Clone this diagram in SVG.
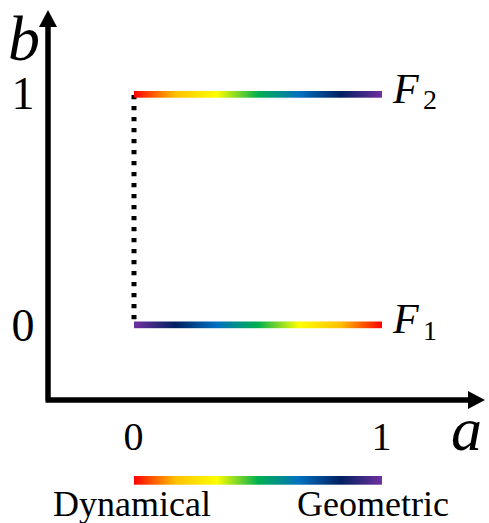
<svg xmlns="http://www.w3.org/2000/svg" width="489" height="523" viewBox="0 0 489 523">
<style>
.t{font-family:"Liberation Serif","DejaVu Serif",serif;fill:#000}
.i{font-style:italic}
.ax{stroke:#000;stroke-width:5.5;fill:none}
</style>
<defs>
<linearGradient id="g" x1="0" y1="0" x2="1" y2="0">
<stop offset="0" stop-color="#FF0000"/>
<stop offset="0.1667" stop-color="#FFC000"/>
<stop offset="0.3333" stop-color="#FFFF00"/>
<stop offset="0.5" stop-color="#00B050"/>
<stop offset="0.6667" stop-color="#0070C0"/>
<stop offset="0.8333" stop-color="#002060"/>
<stop offset="1" stop-color="#7030A0"/>
</linearGradient>
<linearGradient id="gr" x1="1" y1="0" x2="0" y2="0">
<stop offset="0" stop-color="#FF0000"/>
<stop offset="0.1667" stop-color="#FFC000"/>
<stop offset="0.3333" stop-color="#FFFF00"/>
<stop offset="0.5" stop-color="#00B050"/>
<stop offset="0.6667" stop-color="#0070C0"/>
<stop offset="0.8333" stop-color="#002060"/>
<stop offset="1" stop-color="#7030A0"/>
</linearGradient>
</defs>
<g id="axes">
<path class="ax" d="M48 400.5 V26 M45.5 400 H469"/>
<polygon points="48,10 39,27 57,27" fill="#000"/>
<polygon points="485,400 468,391 468,409" fill="#000"/>
</g>
<g id="connectors">
<line x1="134" y1="95" x2="134" y2="326" stroke="#000" stroke-width="5" stroke-dasharray="4.3 6.7"/>
</g>
<g id="F2">
<rect x="134" y="91" width="248" height="6.7" fill="url(#g)"/>
<text class="t i" x="393" y="103" font-size="42">F</text>
<text class="t" x="423" y="109" font-size="28">2</text>
</g>
<g id="F1">
<rect x="134" y="321.5" width="248" height="6.7" fill="url(#gr)"/>
<text class="t i" x="393" y="333" font-size="42">F</text>
<text class="t" x="423" y="340" font-size="28">1</text>
</g>
<g id="labels">
<text class="t i" x="8" y="60" font-size="64">b</text>
<text class="t i" x="451" y="450" font-size="62">a</text>
<text class="t" x="23" y="109" font-size="46" text-anchor="middle">1</text>
<text class="t" x="23" y="341" font-size="46" text-anchor="middle">0</text>
<text class="t" x="133.5" y="450" font-size="40" text-anchor="middle">0</text>
<text class="t" x="381.5" y="450" font-size="40" text-anchor="middle">1</text>
</g>
<g id="legend">
<rect x="134" y="476" width="248" height="8.7" fill="url(#g)"/>
<text class="t" x="53" y="516" font-size="36">Dynamical</text>
<text class="t" x="297" y="516" font-size="36">Geometric</text>
</g>
</svg>
